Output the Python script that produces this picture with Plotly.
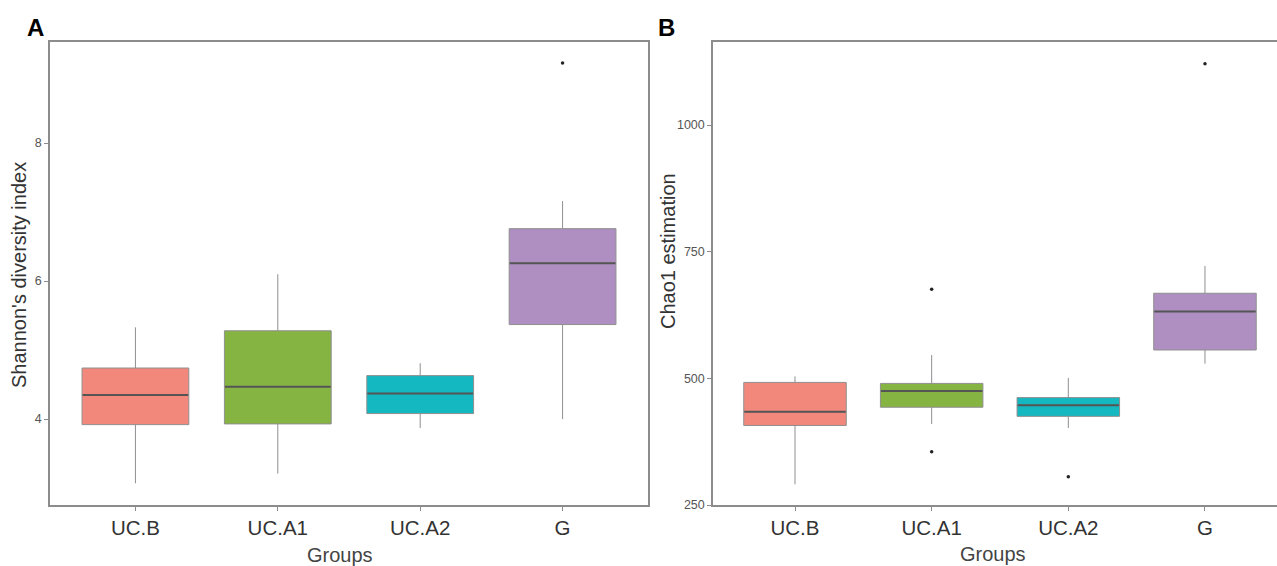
import plotly.graph_objects as go

groups = ["UC.B", "UC.A1", "UC.A2", "G"]
colors = ["#F2887C", "#86B442", "#13B8C0", "#AF8FC2"]

# Panel A: Shannon's diversity index
sh_low = [3.07, 3.21, 3.87, 4.00]
sh_q1 = [3.92, 3.93, 4.08, 5.37]
sh_med = [4.35, 4.47, 4.37, 6.26]
sh_q3 = [4.74, 5.28, 4.63, 6.76]
sh_high = [5.33, 6.10, 4.81, 7.16]
sh_out_x = ["G"]
sh_out_y = [9.16]

# Panel B: Chao1 estimation
ch_low = [291, 410, 402, 529]
ch_q1 = [407, 443, 425, 556]
ch_med = [434, 475, 447, 632]
ch_q3 = [492, 490, 462, 668]
ch_high = [504, 546, 501, 722]
ch_out_x = ["UC.A1", "UC.A1", "UC.A2", "G"]
ch_out_y = [676, 355, 306, 1121]

BOXW = 0.75
fig = go.Figure()


def add_panel(xa, ya, low, q1, med, q3, high, ox, oy):
    for i, g in enumerate(groups):
        fig.add_trace(go.Box(
            x=[i], lowerfence=[low[i]], q1=[q1[i]], median=[med[i]], q3=[q3[i]],
            upperfence=[high[i]], width=BOXW, whiskerwidth=0,
            fillcolor=colors[i], line=dict(color="#8f8f8f", width=1),
            boxpoints=False, xaxis=xa, yaxis=ya, showlegend=False, hoverinfo="skip"))
        fig.add_trace(go.Scatter(
            x=[i - BOXW / 2 + 0.004, i + BOXW / 2 - 0.004], y=[med[i], med[i]],
            mode="lines", line=dict(color="#555555", width=2),
            xaxis=xa, yaxis=ya, showlegend=False, hoverinfo="skip"))
    fig.add_trace(go.Scatter(
        x=[groups.index(g) for g in ox], y=oy, mode="markers",
        marker=dict(color="#222222", size=3.5),
        xaxis=xa, yaxis=ya, showlegend=False, hoverinfo="skip"))


add_panel("x", "y", sh_low, sh_q1, sh_med, sh_q3, sh_high, sh_out_x, sh_out_y)
add_panel("x2", "y2", ch_low, ch_q1, ch_med, ch_q3, ch_high, ch_out_x, ch_out_y)

W, H = 1277, 566
ydom = [1 - 505 / H, 1 - 42 / H]
axis_line = dict(showline=True, linecolor="#8c8c8c", linewidth=1.5,
                 showgrid=False, zeroline=False, ticks="outside", automargin=False,
                 ticklen=4, tickcolor="#8c8c8c", tickwidth=1)
font_fam = "Liberation Sans, Arial, sans-serif"


def ann(text, x, y, size, color, angle=0, bold=False):
    return dict(text=f"<b>{text}</b>" if bold else text, x=x / W, y=1 - y / H,
                xref="paper", yref="paper", showarrow=False, textangle=angle,
                font=dict(size=size, color=color, family=font_fam),
                xanchor="center", yanchor="middle")


fig.update_layout(
    width=W, height=H,
    margin=dict(l=0, r=0, t=0, b=0, autoexpand=False),
    paper_bgcolor="white", plot_bgcolor="white",
    font=dict(family=font_fam, color="#333333"),
    boxmode="overlay",
    xaxis=dict(domain=[50 / W, 648 / W], range=[-0.6, 3.6], tickvals=[0, 1, 2, 3],
               ticktext=groups, tickfont=dict(size=20.5, color="#333333"),
               mirror=True, anchor="y", **axis_line),
    yaxis=dict(domain=ydom, range=[2.755, 9.465], tickvals=[4, 6, 8],
               tickfont=dict(size=12.5, color="#555555"), mirror=True, anchor="x",
               **axis_line),
    xaxis2=dict(domain=[713 / W, 1.0], range=[-0.6, 3.527], tickvals=[0, 1, 2, 3],
                ticktext=groups, tickfont=dict(size=20.5, color="#333333"),
                mirror=True, anchor="y2", **axis_line),
    yaxis2=dict(domain=ydom, range=[250, 1164], tickvals=[250, 500, 750, 1000],
                tickfont=dict(size=12.5, color="#555555"), mirror=False, anchor="x2",
                **axis_line),
    annotations=[
        ann("A", 35, 27, 24, "black", bold=True),
        ann("B", 667, 27, 24, "black", bold=True),
        ann("Shannon's diversity index", 19, 275, 20, "#333333", angle=-90),
        ann("Chao1 estimation", 668, 251, 20, "#333333", angle=-90),
        ann("Groups", 340, 555, 20, "#444444"),
        ann("Groups", 993, 554, 20, "#444444"),
    ],
)

fig.write_html("out.html")
